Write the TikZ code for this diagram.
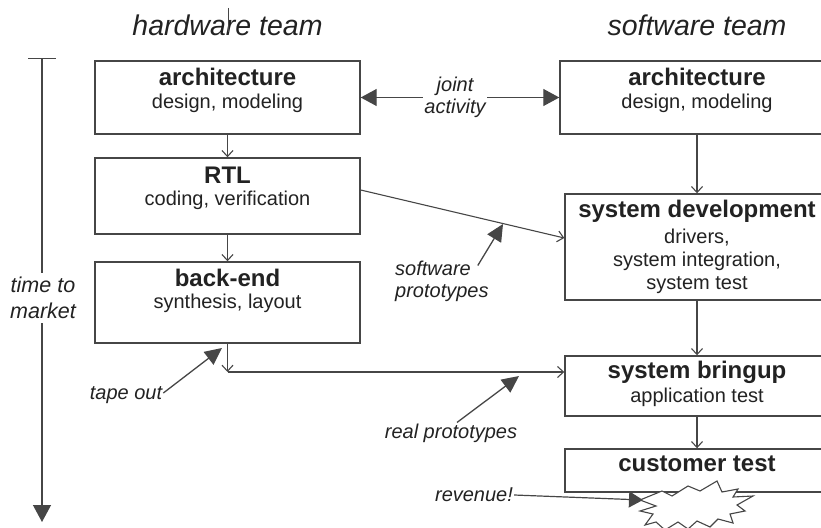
\documentclass[tikz,border=0pt]{standalone}
\usepackage{fontspec}
\setmainfont{Liberation Sans}
\definecolor{lnegray}{RGB}{70,70,70}
\definecolor{txtgray}{RGB}{34,34,34}
\usetikzlibrary{arrows.meta,positioning}

\begin{document}
\begin{tikzpicture}[x=1pt,y=-1pt,
  every node/.style={text=txtgray},
  box/.style={draw=lnegray,line width=1.4pt,fill=white,inner sep=0pt},
  ttl/.style={inner sep=0pt,font=\fontsize{24}{26}\selectfont\bfseries},
  sub/.style={inner sep=0pt,align=center,font=\fontsize{20}{23}\selectfont},
  lbl/.style={inner sep=1pt,font=\fontsize{20}{22}\selectfont\itshape},
  team/.style={inner sep=0pt,font=\fontsize{28.5}{30}\selectfont\itshape},
  flow/.style={draw=lnegray,line width=1.1pt,-{Straight Barb[length=6pt,width=11pt]}},
  point/.style={draw=lnegray,line width=1.3pt,-{Triangle[length=17pt,width=16pt]}}]
  \clip (0,0) rectangle (821,527);

  %% team headings
  \node[team] (hwteam) at (227.5,25) {hardware team};
  \node[team] (swteam) at (697,25) {software team};
  \draw[lnegray,line width=0.8pt] (228,8) -- (228,32);

  %% time axis
  \node[lbl,align=center,inner sep=4pt,font=\fontsize{21.5}{26}\selectfont\itshape]
        (ttm) at (43,298) {time to\\market};
  \coordinate (ttop) at (42,58);
  \coordinate (tbot) at (42,522);
  \draw[lnegray,line width=1.3pt,{Bar[width=28pt]}-] (ttop) -- (ttm.north -| ttop);
  \draw[lnegray,line width=1.3pt,-{Triangle[length=17pt,width=18pt]}]
        (ttm.south -| tbot) -- (tbot);

  %% hardware team
  \node[box,minimum width=265,minimum height=73] (hwarch) at (227.5,97.5) {};
  \node[ttl] (hwarch-t) at (227.5,77) {architecture};
  \node[sub] (hwarch-s) at (227.5,103) {design, modeling};

  \node[box,minimum width=265,minimum height=76] (hwrtl) at (227.5,196) {};
  \node[ttl] (hwrtl-t) at (227.5,175) {RTL};
  \node[sub] (hwrtl-s) at (227.5,200) {coding, verification};

  \node[box,minimum width=265,minimum height=81] (hwback) at (227.5,302.5) {};
  \node[ttl] (hwback-t) at (227.5,278) {back-end};
  \node[sub] (hwback-s) at (227.5,303) {synthesis, layout};

  %% software team
  \node[box,minimum width=274,minimum height=73] (swarch) at (697,97.5) {};
  \node[ttl] (swarch-t) at (697,77) {architecture};
  \node[sub] (swarch-s) at (697,103) {design, modeling};

  \node[box,minimum width=264,minimum height=106] (swdev) at (697,247) {};
  \node[ttl] (swdev-t) at (697,211) {system development};
  \node[sub] (swdev-s) at (697,261) {drivers,\\system integration,\\system test};

  \node[box,minimum width=264,minimum height=60] (swbring) at (697,386) {};
  \node[ttl] (swbring-t) at (697,372) {system bringup};
  \node[sub] (swbring-s) at (697,397) {application test};

  \node[box,minimum width=264,minimum height=43] (swcust) at (697,470.5) {};
  \node[ttl] (swcust-t) at (697,464) {customer test};

  %% flows
  \draw[flow] (hwarch) -- (hwrtl);
  \draw[flow] (hwrtl) -- (hwback);
  \draw[flow] (swarch) -- (swdev);
  \draw[flow] (swdev) -- (swbring);
  \draw[flow] (swbring) -- (swcust);
  \draw[flow] ([yshift=6pt]hwrtl.east) -- ([yshift=9pt]swdev.west);
  \coordinate (tp) at (227.5,372);
  \draw[flow] (hwback.south) -- (tp);
  \draw[flow] (tp) -- (swbring.west |- tp);

  %% joint activity
  \draw[lnegray,line width=1.3pt,
        {Triangle[length=16pt,width=17pt]}-{Triangle[length=16pt,width=17pt]}]
        (hwarch.east) -- node[lbl,fill=white,align=center,pos=0.475] (joint)
        {joint\\activity} (swarch.west);

  %% pointers
  \node[lbl,align=left,anchor=west] (swproto) at (394,281) {software\\prototypes};
  \coordinate (swtip) at (503,224);
  \draw[point] ([xshift=-12pt,yshift=-6pt]swproto.north east) -- (swtip);

  \node[lbl] (tape) at (126,395) {tape out};
  \coordinate (tapetip) at (222,348);
  \draw[point] ([yshift=2pt]tape.east) -- (tapetip);

  \node[lbl] (real) at (451,433) {real prototypes};
  \coordinate (realtip) at (519,376);
  \draw[point] ([xshift=6pt]real.north) -- (realtip);

  %% revenue burst
  \draw[lnegray,line width=1.1pt,fill=white]
        (640,500) -- (662,491) -- (672,496) -- (688,486) -- (700,491) -- (717,481)
        -- (722,492) -- (738,489) -- (733,497) -- (753,496) -- (737,505) -- (745,511)
        -- (730,514) -- (733,523) -- (718,519) -- (710,527) -- (697,521) -- (688,529)
        -- (678,522) -- (665,530) -- (656,522) -- (645,525) -- (653,514) -- (640,511)
        -- (656,506) -- cycle;
  \node[lbl] (rev) at (474,495) {revenue!};
  \coordinate (revtip) at (643,500);
  \draw[lnegray,line width=1.2pt,-{Triangle[length=14pt,width=16pt]}] (rev.east) -- (revtip);
\end{tikzpicture}
\end{document}
